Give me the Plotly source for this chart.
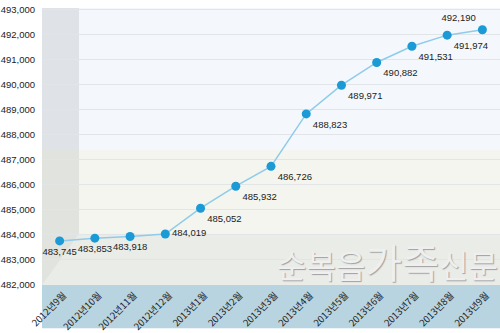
import plotly.graph_objects as go

months = ["2012년9월", "2012년10월", "2012년11월", "2012년12월", "2013년1월", "2013년2월",
          "2013년3월", "2013년4월", "2013년5월", "2013년6월", "2013년7월", "2013년8월", "2013년9월"]
members = [483745, 483853, 483918, 484019, 485052, 485932, 486726, 488823,
           489971, 490882, 491531, 491974, 492190]
label_pos = ["bottom center", "bottom center", "bottom center", "middle right"] + ["bottom right"] * 8 + ["top left"]

y_ticks = list(range(482000, 493001, 1000))
Y0, Y1 = 481980, 493060

fig = go.Figure()

fig.add_trace(go.Scatter(
    x=months, y=members, mode="lines+markers+text",
    line=dict(color="#8fcbea", width=1.5),
    marker=dict(color="#1c9ad6", size=9),
    text=[f"{v:,}" for v in members],
    textposition=label_pos,
    textfont=dict(family="Liberation Sans, Arial", size=9.5, color="#222"),
    cliponaxis=False,
    hoverinfo="skip",
))

shapes = []
# background zones
shapes.append(dict(type="rect", xref="paper", yref="y", x0=0, x1=1, y0=487380, y1=Y1,
                   fillcolor="#f4f8fc", line_width=0, layer="below"))
shapes.append(dict(type="rect", xref="paper", yref="y", x0=0, x1=1, y0=484030, y1=487380,
                   fillcolor="#f3f5ee", line_width=0, layer="below"))
shapes.append(dict(type="rect", xref="paper", yref="y", x0=0, x1=1, y0=Y0, y1=484030,
                   fillcolor="#eaece8", line_width=0, layer="below"))
# left wall
wx = 37 / 458
shapes.append(dict(type="path", xref="paper", yref="y",
                   path=f"M 0,{Y1} L {wx},{Y1} L {wx},487380 L 0,487380 Z",
                   fillcolor="#dfe3e7", line_width=0, layer="below"))
shapes.append(dict(type="path", xref="paper", yref="y",
                   path=f"M 0,487380 L {wx},487380 L {wx},484030 L 0,{Y0} Z",
                   fillcolor="#e1e3de", line_width=0, layer="below"))
# bottom band
shapes.append(dict(type="rect", xref="paper", yref="paper", x0=0, x1=1.01, y0=-44 / 281, y1=0,
                   fillcolor="#b9d4e1", line_width=0, layer="below"))

fig.add_annotation(
    xref="paper", yref="paper", x=1.0, y=-0.025, xanchor="right", yanchor="bottom",
    text="순복음<span style='font-size:40px'>가족</span>신문",
    showarrow=False,
    font=dict(family="Noto Sans CJK KR", size=32, color="#efefef",
              shadow="1px 1px 1px #a0a0a0"),
)

fig.update_layout(
    width=500, height=333,
    margin=dict(l=42, r=0, t=8, b=44),
    paper_bgcolor="white",
    plot_bgcolor="rgba(0,0,0,0)",
    showlegend=False,
    shapes=shapes,
    xaxis=dict(
        type="category", range=[-0.5, 12.5], showgrid=False, zeroline=False,
        showline=False, ticks="", tickangle=-45, ticklabelshift=4, ticklabelstandoff=2,
        tickfont=dict(family="Noto Sans CJK KR", size=9.5, color="#222"),
    ),
    yaxis=dict(
        range=[Y0, Y1], tickvals=y_ticks, ticktext=[f"{v:,}" for v in y_ticks],
        showgrid=True, gridcolor="#e2e5e8", gridwidth=1, zeroline=False,
        showline=False, ticks="", ticklabelstandoff=6,
        tickfont=dict(family="Liberation Sans, Arial", size=9.5, color="#222"),
    ),
)

fig.write_html("out.html")
